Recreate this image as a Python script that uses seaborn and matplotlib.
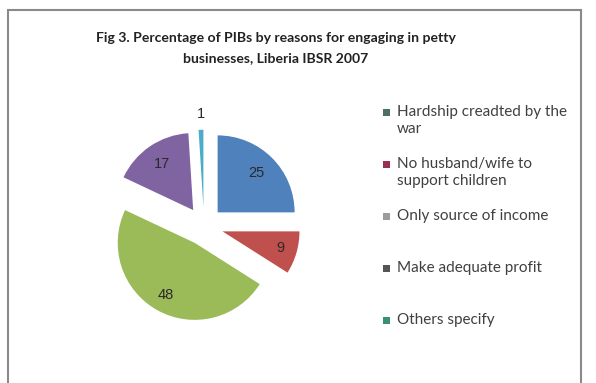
import matplotlib
matplotlib.use("Agg")
import matplotlib.pyplot as plt
import numpy as np
import seaborn as sns
from matplotlib.patches import Rectangle

sns.set_theme(style="white")
plt.rcParams["font.family"] = ["Lato", "DejaVu Sans"]

# Data
reasons = [
    "Hardship creadted by the\nwar",
    "No husband/wife to\nsupport children",
    "Only source of income",
    "Make adequate profit",
    "Others specify",
]
shares = [25, 9, 48, 17, 1]
pie_colors = ["#4f81bd", "#c0504d", "#9bbb59", "#8064a2", "#4bacc6"]
legend_colors = ["#4a7068", "#9a3050", "#9c9c9c", "#555555", "#3a9070"]
explode = [0.25, 0.25, 0.25, 0.25, 0.25]
label_dist = [0.72, 0.78, 0.78, 0.72, 1.2]

W, H = 596, 383
fig = plt.figure(figsize=(W / 100, H / 100), dpi=100)
fig.patch.set_facecolor("white")

# chart frame
fig.add_artist(Rectangle((8 / W, -0.05), (581 - 8) / W, (H - 10) / H + 0.05,
                         transform=fig.transFigure, fill=False,
                         edgecolor="#8a8a8a", linewidth=1.5))

# pie axes: unit radius = 77 px, centred at (204, 226) from top-left
r_px = 77
half = 1.5 * r_px
cx, cy = 204, H - 226
ax = fig.add_axes([(cx - half) / W, (cy - half) / H, 2 * half / W, 2 * half / H])

wedges, _ = ax.pie(shares, colors=pie_colors, explode=explode, startangle=90,
                   counterclock=False, radius=1.0,
                   wedgeprops=dict(linewidth=0))
ax.set_xlim(-1.5, 1.5)
ax.set_ylim(-1.5, 1.5)
ax.set_aspect("equal")
ax.axis("off")

for w, val, ld, ex in zip(wedges, shares, label_dist, explode):
    mid = np.deg2rad((w.theta1 + w.theta2) / 2)
    d = ex + ld
    ax.text(d * np.cos(mid), d * np.sin(mid), str(val), ha="center", va="center",
            fontsize=10.5, color="#2a2a2a", family=["Liberation Sans", "DejaVu Sans"])

fig.text(276 / W, 1 - 48 / H,
         "Fig 3. Percentage of PIBs by reasons for engaging in petty\nbusinesses, Liberia IBSR 2007",
         ha="center", va="center", fontsize=10.1, fontweight="bold",
         color="#222222", linespacing=1.85)

# legend: one entry every 52 px, swatch aligned with the first text line
entry_top = 105
for i, (lab, col) in enumerate(zip(reasons, legend_colors)):
    y = entry_top + i * 52
    fig.add_artist(Rectangle((383 / W, 1 - (y + 11) / H), 7 / W, 7 / H,
                             transform=fig.transFigure, facecolor=col,
                             edgecolor="none"))
    fig.text(397 / W, 1 - y / H, lab, ha="left", va="top", fontsize=11,
             color="#404040", linespacing=1.3)

fig.savefig("out.png", dpi=100, facecolor="white")
